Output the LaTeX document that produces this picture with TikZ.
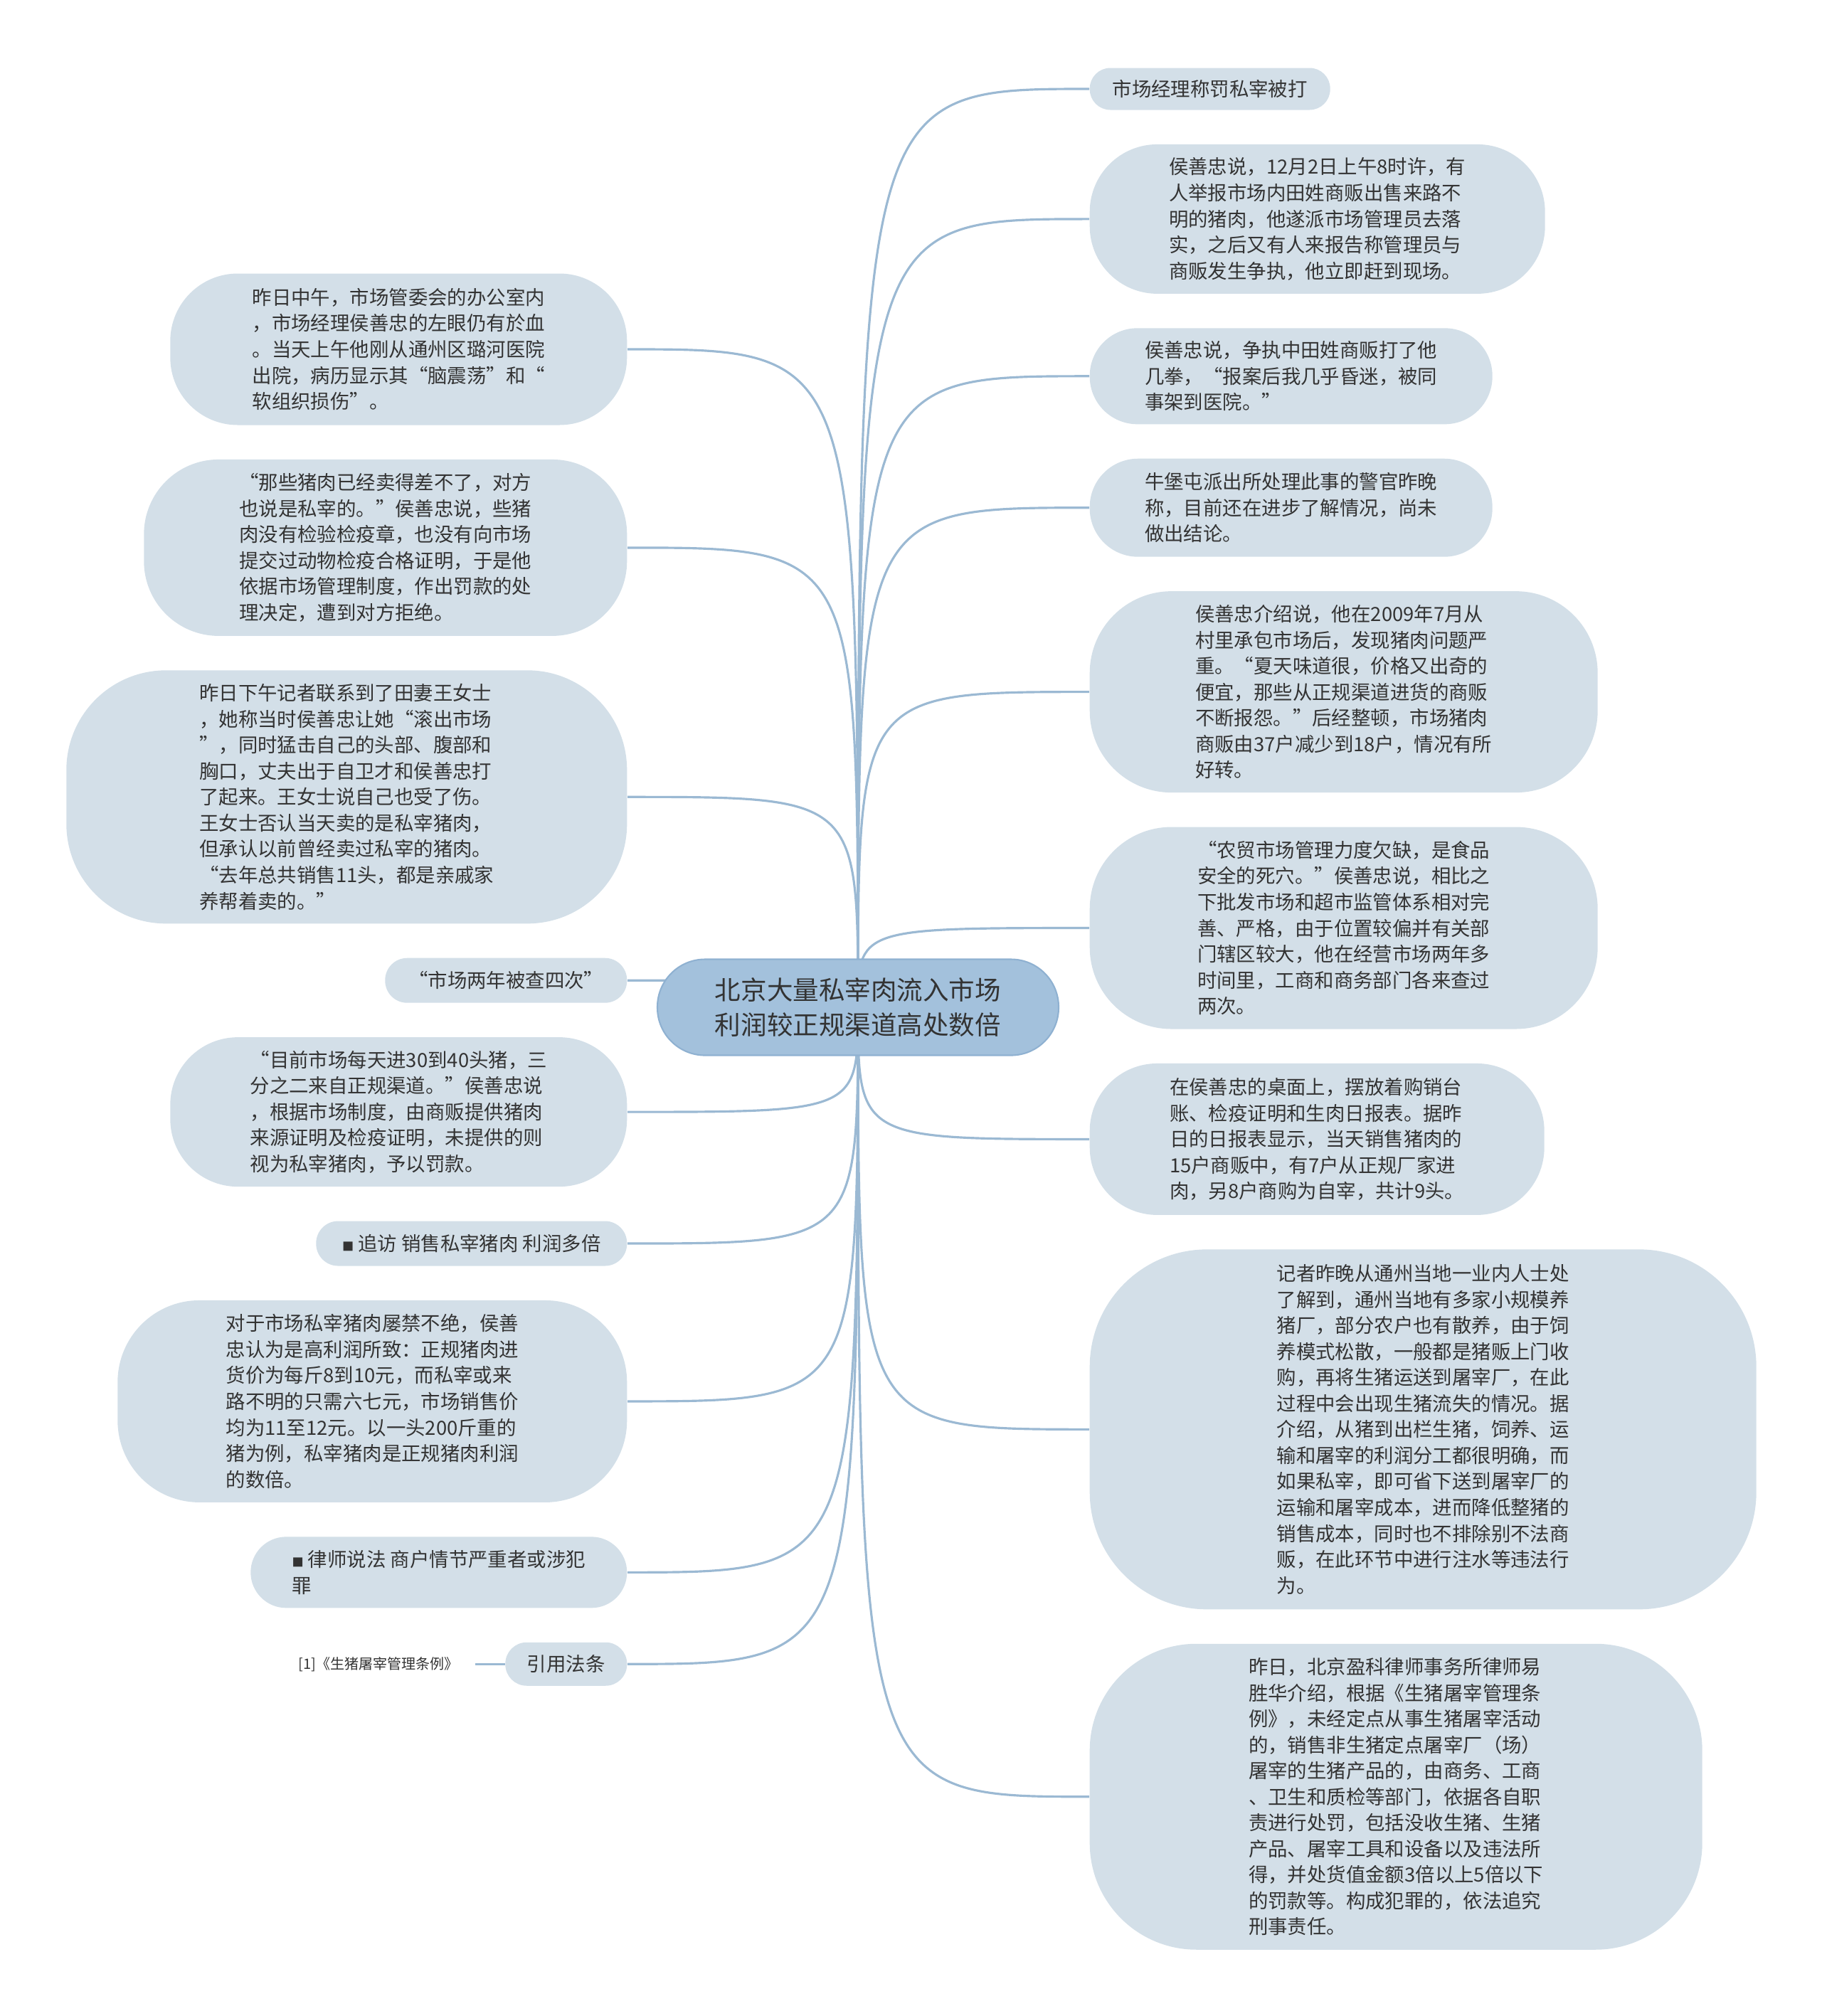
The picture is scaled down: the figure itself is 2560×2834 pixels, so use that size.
\documentclass[tikz,border=0pt]{standalone}
\usepackage{fontspec}
\newfontfamily\cjk{Noto Sans CJK SC}
\usetikzlibrary{positioning,backgrounds}
\definecolor{cHub}{HTML}{A3C1DC}
\definecolor{cHubLine}{HTML}{8FB1D1}
\definecolor{cTopic}{HTML}{D3DFE8}
\definecolor{cConn}{HTML}{9BB9D3}
\definecolor{cInk}{HTML}{333333}
\newcommand{\sqb}{{\fontsize{4.6}{4.6}\selectfont ■}}

\begin{document}
\begin{tikzpicture}[
  x=0.1mm, y=-0.1mm,
  node distance=4.7mm,
  font=\cjk\fontsize{7.8}{10.4}\selectfont,
  hub/.style={rectangle, rounded corners=6.7mm, fill=cHub, draw=cHubLine, line width=0.6pt,
              text=cInk, align=center, inner sep=1mm,
              font=\cjk\fontsize{10.4}{13.9}\selectfont,
              minimum width=56.4mm, minimum height=13.5mm},
  topic/.style={rectangle, rounded corners=#1, fill=cTopic, text=cInk, align=left, inner sep=1mm},
  topic/.default=3mm,
  conn/.style={draw=cConn, line width=0.9pt},
  refnote/.style={text=cInk, inner sep=2.2mm, font=\cjk\fontsize{5.7}{7}\selectfont},
]
\useasboundingbox (0,0) rectangle (2560,2834);

% ---------- Central topic ----------
\node[hub] (hub) at (1206,1416) {北京大量私宰肉流入市场\\利润较正规渠道高处数倍};

% ---------- Right branches ----------
\node[topic=2.9mm, anchor=west, minimum width=33.8mm, minimum height=5.9mm] (r1) at (1531,125)
  {市场经理称罚私宰被打};
\node[topic=9.5mm, below=of r1.south west, anchor=north west, minimum width=64mm, minimum height=21mm] (r2)
  {侯善忠说，12月2日上午8时许，有\\
   人举报市场内田姓商贩出售来路不\\
   明的猪肉，他遂派市场管理员去落\\
   实，之后又有人来报告称管理员与\\
   商贩发生争执，他立即赶到现场。};
\node[topic=6.7mm, below=of r2.south west, anchor=north west, minimum width=56.6mm, minimum height=13.5mm] (r3)
  {侯善忠说，争执中田姓商贩打了他\\
   几拳，“报案后我几乎昏迷，被同\\
   事架到医院。”};
\node[topic=6.8mm, below=of r3.south west, anchor=north west, minimum width=56.6mm, minimum height=13.8mm] (r4)
  {牛堡屯派出所处理此事的警官昨晚\\
   称，目前还在进步了解情况，尚未\\
   做出结论。};
\node[topic=11.5mm, below=of r4.south west, anchor=north west, minimum width=71.4mm, minimum height=28.3mm] (r5)
  {侯善忠介绍说，他在2009年7月从\\
   村里承包市场后，发现猪肉问题严\\
   重。“夏天味道很，价格又出奇的\\
   便宜，那些从正规渠道进货的商贩\\
   不断报怨。”后经整顿，市场猪肉\\
   商贩由37户减少到18户，情况有所\\
   好转。};
\node[topic=11.5mm, below=of r5.south west, anchor=north west, minimum width=71.4mm, minimum height=28.4mm] (r6)
  {“农贸市场管理力度欠缺，是食品\\
   安全的死穴。”侯善忠说，相比之\\
   下批发市场和超市监管体系相对完\\
   善、严格，由于位置较偏并有关部\\
   门辖区较大，他在经营市场两年多\\
   时间里，工商和商务部门各来查过\\
   两次。};
\node[topic=9.5mm, below=of r6.south west, anchor=north west, minimum width=63.9mm, minimum height=21.3mm] (r7)
  {在侯善忠的桌面上，摆放着购销台\\
   账、检疫证明和生肉日报表。据昨\\
   日的日报表显示，当天销售猪肉的\\
   15户商贩中，有7户从正规厂家进\\
   肉，另8户商购为自宰，共计9头。};
\node[topic=16.5mm, below=of r7.south west, anchor=north west, minimum width=93.7mm, minimum height=50.6mm] (r8)
  {记者昨晚从通州当地一业内人士处\\
   了解到，通州当地有多家小规模养\\
   猪厂，部分农户也有散养，由于饲\\
   养模式松散，一般都是猪贩上门收\\
   购，再将生猪运送到屠宰厂，在此\\
   过程中会出现生猪流失的情况。据\\
   介绍，从猪到出栏生猪，饲养、运\\
   输和屠宰的利润分工都很明确，而\\
   如果私宰，即可省下送到屠宰厂的\\
   运输和屠宰成本，进而降低整猪的\\
   销售成本，同时也不排除别不法商\\
   贩，在此环节中进行注水等违法行\\
   为。};
\node[topic=15mm, below=of r8.south west, anchor=north west, minimum width=86.1mm, minimum height=43mm] (r9)
  {昨日，北京盈科律师事务所律师易\\
   胜华介绍，根据《生猪屠宰管理条\\
   例》，未经定点从事生猪屠宰活动\\
   的，销售非生猪定点屠宰厂（场）\\
   屠宰的生猪产品的，由商务、工商\\
   、卫生和质检等部门，依据各自职\\
   责进行处罚，包括没收生猪、生猪\\
   产品、屠宰工具和设备以及违法所\\
   得，并处货值金额3倍以上5倍以下\\
   的罚款等。构成犯罪的，依法追究\\
   刑事责任。};

% ---------- Left branches ----------
\node[topic=9.5mm, anchor=east, minimum width=64.2mm, minimum height=21.3mm] (l1) at (882,491)
  {昨日中午，市场管委会的办公室内\\
   ，市场经理侯善忠的左眼仍有於血\\
   。当天上午他刚从通州区璐河医院\\
   出院，病历显示其“脑震荡”和“\\
   软组织损伤”。};
\node[topic=10.5mm, below=of l1.south east, anchor=north east, minimum width=67.9mm, minimum height=24.8mm] (l2)
  {“那些猪肉已经卖得差不了，对方\\
   也说是私宰的。”侯善忠说，些猪\\
   肉没有检验检疫章，也没有向市场\\
   提交过动物检疫合格证明，于是他\\
   依据市场管理制度，作出罚款的处\\
   理决定，遭到对方拒绝。};
\node[topic=14mm, below=of l2.south east, anchor=north east, minimum width=78.8mm, minimum height=35.6mm] (l3)
  {昨日下午记者联系到了田妻王女士\\
   ，她称当时侯善忠让她“滚出市场\\
   ”，同时猛击自己的头部、腹部和\\
   胸口，丈夫出于自卫才和侯善忠打\\
   了起来。王女士说自己也受了伤。\\
   王女士否认当天卖的是私宰猪肉，\\
   但承认以前曾经卖过私宰的猪肉。\\
   “去年总共销售11头，都是亲戚家\\
   养帮着卖的。”};
\node[topic=3.1mm, below=of l3.south east, anchor=north east, minimum width=34mm, minimum height=6.3mm] (l4)
  {“市场两年被查四次”};
\node[topic=9.5mm, below=of l4.south east, anchor=north east, minimum width=64.2mm, minimum height=21mm] (l5)
  {“目前市场每天进30到40头猪，三\\
   分之二来自正规渠道。”侯善忠说\\
   ，根据市场制度，由商贩提供猪肉\\
   来源证明及检疫证明，未提供的则\\
   视为私宰猪肉，予以罚款。};
\node[topic=3.1mm, below=of l5.south east, anchor=north east, minimum width=43.7mm, minimum height=6.3mm] (l6)
  {\sqb\ 追访 销售私宰猪肉 利润多倍};
\node[topic=11.5mm, below=of l6.south east, anchor=north east, minimum width=71.6mm, minimum height=28.4mm] (l7)
  {对于市场私宰猪肉屡禁不绝，侯善\\
   忠认为是高利润所致：正规猪肉进\\
   货价为每斤8到10元，而私宰或来\\
   路不明的只需六七元，市场销售价\\
   均为11至12元。以一头200斤重的\\
   猪为例，私宰猪肉是正规猪肉利润\\
   的数倍。};
\node[topic=5mm, below=of l7.south east, anchor=north east, minimum width=52.9mm, minimum height=10mm] (l8)
  {\sqb\ 律师说法 商户情节严重者或涉犯\\罪};
\node[topic=3mm, below=of l8.south east, anchor=north east, minimum width=17.1mm, minimum height=6.1mm] (l9)
  {引用法条};
\node[refnote, left=4.2mm of l9] (l10) {[1]《生猪屠宰管理条例》};

% ---------- Connectors ----------
\begin{scope}[on background layer]
  \draw[conn] (hub.center) .. controls (hub.center |- r1.west) .. (r1.west);
  \draw[conn] (hub.center) .. controls (hub.center |- r2.west) .. (r2.west);
  \draw[conn] (hub.center) .. controls (hub.center |- r3.west) .. (r3.west);
  \draw[conn] (hub.center) .. controls (hub.center |- r4.west) .. (r4.west);
  \draw[conn] (hub.center) .. controls (hub.center |- r5.west) .. (r5.west);
  \draw[conn] (hub.center) .. controls (hub.center |- r6.west) .. (r6.west);
  \draw[conn] (hub.center) .. controls (hub.center |- r7.west) .. (r7.west);
  \draw[conn] (hub.center) .. controls (hub.center |- r8.west) .. (r8.west);
  \draw[conn] (hub.center) .. controls (hub.center |- r9.west) .. (r9.west);
  \draw[conn] (hub.center) .. controls (hub.center |- l1.east) .. (l1.east);
  \draw[conn] (hub.center) .. controls (hub.center |- l2.east) .. (l2.east);
  \draw[conn] (hub.center) .. controls (hub.center |- l3.east) .. (l3.east);
  \draw[conn] (hub.center) .. controls (hub.center |- l4.east) .. (l4.east);
  \draw[conn] (hub.center) .. controls (hub.center |- l5.east) .. (l5.east);
  \draw[conn] (hub.center) .. controls (hub.center |- l6.east) .. (l6.east);
  \draw[conn] (hub.center) .. controls (hub.center |- l7.east) .. (l7.east);
  \draw[conn] (hub.center) .. controls (hub.center |- l8.east) .. (l8.east);
  \draw[conn] (hub.center) .. controls (hub.center |- l9.east) .. (l9.east);
\end{scope}
\draw[conn] (l9.west) -- (l10.east);

\end{tikzpicture}
\end{document}
